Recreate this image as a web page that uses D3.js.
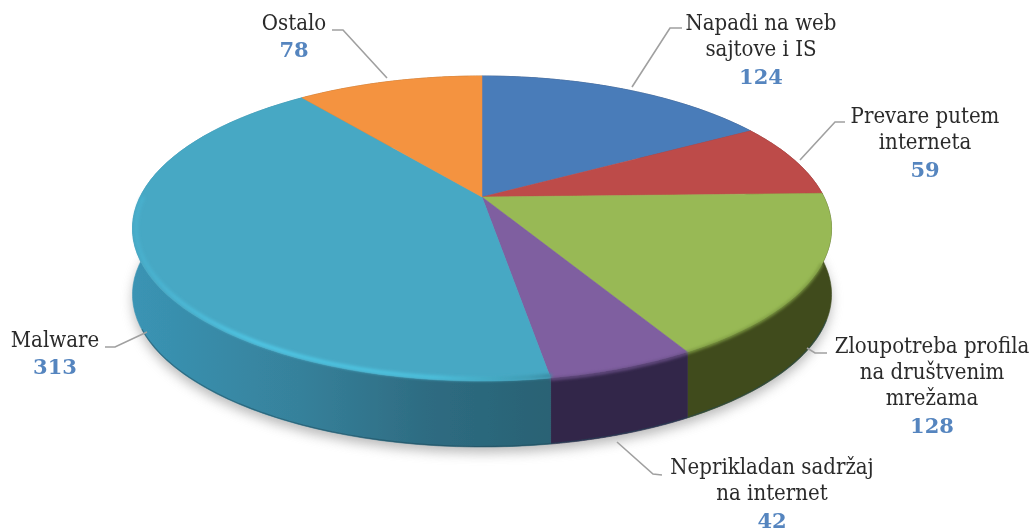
<!DOCTYPE html>
<html><head><meta charset="utf-8">
<style>html,body{margin:0;padding:0;background:#fff}svg{display:block}</style>
<script src="https://cdnjs.cloudflare.com/ajax/libs/d3/7.8.5/d3.min.js"></script></head>
<body><svg id="c" width="1036" height="532"></svg>
<script>
const categories = ["Napadi na web sajtove i IS","Prevare putem interneta","Zloupotreba profila na društvenim mrežama","Neprikladan sadržaj na internet","Malware","Ostalo"];
const values = [124,59,128,42,313,78];
const topColors = ["#4a7bb9","#bd4b48","#98b954","#7f5ea0","#47a8c4","#f4933f"];
const sideColors = ["#2c4c70","#7a2f2d","#3f4c1f","#33274a","#338ba6","#a8601f"];
const rimColors = ["#4a7bb9","#bd4b48","#7f9c42","#6a4f88","#47a8c4","#f4933f"];
const labelLines = [["Napadi na web","sajtove i IS"],["Prevare putem","interneta"],["Zloupotreba profila","na društvenim","mrežama"],["Neprikladan sadržaj","na internet"],["Malware"],["Ostalo"]];
const labelAnchors = [[761,30],[925,123],[932,353],[772,474],[55,347],[294,30]];
const leaders = [[[632,87],[670,28],[682,28]],[[800,160],[835,122],[845,122]],[[807,348],[815,353],[827,353]],[[617,442],[653,474],[662,475]],[[147,332],[115,347],[105,347]],[[387,78],[343,30],[332,30]]];

const cx=482, cy=197, C=342, A=146, B=0.2066, depth=66;
const svg=d3.select("#c"), defs=svg.append("defs");
const project=(a,r=1)=>{const u=r*Math.sin(a),v=-r*Math.cos(a),w=1-B*v;return [cx+C*u/w,cy+A*v/w];};
const arcs=d3.pie().sort(null).value(d=>d)(values);
const line=d3.line();
const sample=(s,e,r=1)=>d3.range(0,61).map(i=>project(s+(e-s)*i/60,r));

const mkBlur=(id,s)=>defs.append("filter").attr("id",id).attr("x","-10%").attr("y","-20%").attr("width","120%").attr("height","140%").append("feGaussianBlur").attr("stdDeviation",s);
mkBlur("soft",0.7); mkBlur("shadow",6); mkBlur("rimBlur",1.5); mkBlur("tsoft",0.4);

const grad=(id,stops)=>{const g=defs.append("linearGradient").attr("id",id).attr("gradientUnits","userSpaceOnUse").attr("x1",132).attr("x2",550).attr("y1",0).attr("y2",0);
  stops.forEach(([o,c])=>g.append("stop").attr("offset",o).attr("stop-color",c));};
grad("tealSide",[[0,"#3a94b4"],[0.4,"#36819b"],[0.7,"#2e6c82"],[1,"#296274"]]);
grad("tealRim",[[0,"#49aecb"],[0.3,"#4fc6e4"],[0.72,"#4cc0dc"],[0.95,"#3f9cb4"],[1,"#3a8ca4"]]);

const full=sample(0,2*Math.PI);
svg.append("path").attr("d",line(full.map(([x,y])=>[x,y+depth+6]))+"Z").attr("fill","#8c8c8c").attr("opacity",0.6).attr("filter","url(#shadow)");

const pie=svg.append("g").attr("filter","url(#soft)");
arcs.forEach((d,i)=>{
  const a=sample(d.startAngle,d.endAngle), b=a.map(([x,y])=>[x,y+depth]).reverse();
  const f=i===4?"url(#tealSide)":sideColors[i];
  pie.append("path").attr("d",line(a.concat(b))+"Z").attr("fill",f).attr("stroke",f).attr("stroke-width",0.6);
});
// dark lower edge of the front wall
pie.append("path").attr("d",line(sample(arcs[2].startAngle+0.4,arcs[4].startAngle+1.3).map(([x,y])=>[x,y+depth-0.5]))).attr("fill","none").attr("stroke","#1f4a5a").attr("stroke-opacity",0.5).attr("stroke-width",1.2);
arcs.forEach((d,i)=>{
  const a=sample(d.startAngle,d.endAngle);
  pie.append("path").attr("d",line([[cx,cy]].concat(a))+"Z").attr("fill",topColors[i]).attr("stroke",topColors[i]).attr("stroke-width",0.5);
});
// soft bevel along the front rim of every visible slice
const rim=svg.append("g").attr("filter","url(#rimBlur)").attr("fill","none");
rim.append("path").attr("d",line(sample(arcs[2].startAngle+0.45,arcs[2].endAngle,0.998).map(([x,y])=>[x,y+1]))).attr("stroke",rimColors[2]).attr("stroke-width",3);
rim.append("path").attr("d",line(sample(arcs[3].startAngle,arcs[3].endAngle,1.0).map(([x,y])=>[x,y+1]))).attr("stroke",rimColors[3]).attr("stroke-width",3);
rim.append("path").attr("d",line(sample(arcs[4].startAngle,arcs[4].startAngle+1.72,0.99))).attr("stroke","url(#tealRim)").attr("stroke-width",4).attr("stroke-linecap","round");

leaders.forEach(l=>svg.append("path").attr("d",line(l)).attr("fill","none").attr("stroke","#a0a0a0").attr("stroke-width",1.6));

const text=svg.append("g").attr("filter","url(#tsoft)").attr("text-anchor","middle");
const lh=26;
labelLines.forEach((ls,i)=>{
  const [x,y]=labelAnchors[i];
  ls.forEach((t,j)=>text.append("text").attr("x",x).attr("y",y+j*lh).attr("font-family","'DejaVu Serif'").style("font-stretch","condensed").attr("font-size",22).attr("fill","#2b2b2b").text(t));
  text.append("text").attr("x",x).attr("y",y+(ls.length-1)*lh+27+(ls.length>1?1:0)).attr("font-family","'DejaVu Serif'").attr("font-weight","bold").attr("font-size",21).attr("fill","#5585bf").text(values[i]);
});
</script></body></html>
